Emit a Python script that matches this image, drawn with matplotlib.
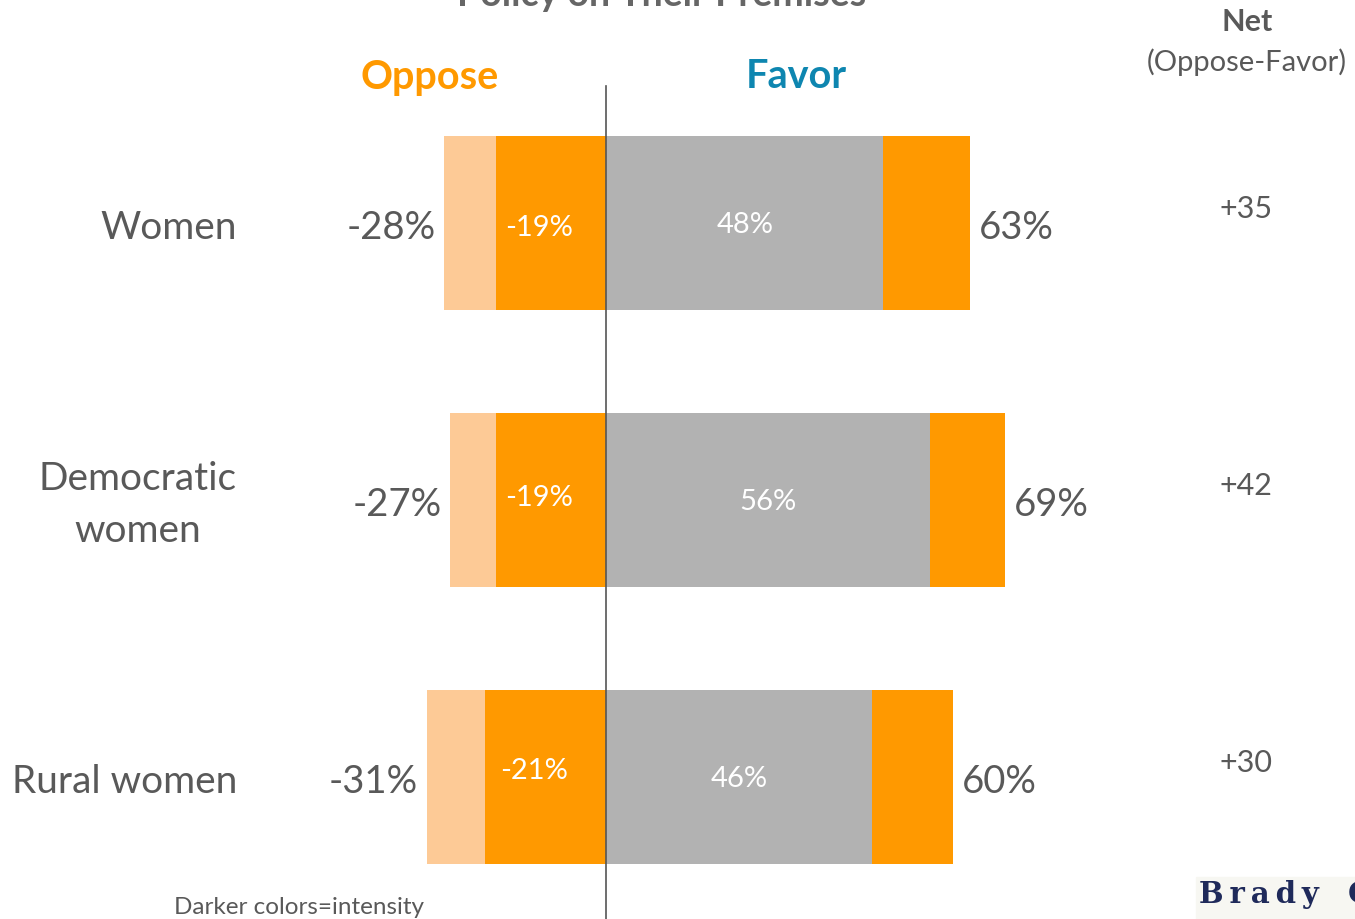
"""Diverging bar chart: oppose vs favor by group"""
import matplotlib.pyplot as plt
import matplotlib.patches as mpatches

groups = ["Women", "Democratic\nwomen", "Rural women"]
oppose_total = [28, 27, 31]
oppose_strong = [19, 19, 21]
favor_total = [63, 69, 60]
favor_strong = [48, 56, 46]
net_labels = ["+35", "+42", "+30"]

LIGHT_ORANGE = "#FDCA96"
ORANGE = "#FF9900"
GRAY = "#B2B2B2"
TEXT_GRAY = "#595959"
BLUE = "#0E86B0"
FONT = "Lato"

plt.rcParams["font.family"] = [FONT, "DejaVu Sans"]

PX = 5.78          # pixels per percentage point
ZERO_PX = 606
ROW_PX = 277
FIRST_ROW_PX = 224
W, H = 1355, 920


def py(pixel_y):
    """pixel row -> data y"""
    return (pixel_y - FIRST_ROW_PX) / ROW_PX


fig = plt.figure(figsize=(W / 100, H / 100), dpi=100)
ax = fig.add_axes([0, 0, 1, 1])
ax.set_xlim(-ZERO_PX / PX, (W - ZERO_PX) / PX)
ax.set_ylim(py(H), py(0))
ax.axis("off")

ys = range(len(groups))
bar_h = 174 / ROW_PX

# oppose side
ax.barh(ys, [-v for v in oppose_total], height=bar_h, color=LIGHT_ORANGE)
ax.barh(ys, [-v for v in oppose_strong], height=bar_h, color=ORANGE)
# favor side
ax.barh(ys, favor_total, height=bar_h, color=ORANGE)
ax.barh(ys, favor_strong, height=bar_h, color=GRAY)

ax.plot([0, 0], [py(87), py(H)], color="#555555", lw=1.2, zorder=5)

inner_dy = [0.015, -0.01, -0.025]
for y, g, ot, os_, ft, fs, net, dy in zip(ys, groups, oppose_total,
                                          oppose_strong, favor_total,
                                          favor_strong, net_labels, inner_dy):
    ax.text(-369 / PX, y + 0.015, g, ha="right", va="center", fontsize=28,
            color=TEXT_GRAY, linespacing=1.55, multialignment="center")
    ax.text(-ot - 1.5, y + 0.015, f"-{ot}%", ha="right", va="center",
            fontsize=27.5, color=TEXT_GRAY)
    ax.text(ft + 1.5, y + 0.015, f"{ft}%", ha="left", va="center",
            fontsize=27.5, color=TEXT_GRAY)
    ax.text(-os_ / 2 - 2, y + dy, f"-{os_}%", ha="center", va="center",
            fontsize=21, color="white")
    ax.text(fs / 2, y + 0.005, f"{fs}%", ha="center", va="center",
            fontsize=21, color="white")
    ax.text(640 / PX, y - 0.055, net, ha="center", va="center", fontsize=22,
            color=TEXT_GRAY)

# headers
ax.text(-30.5, py(77), "Oppose", ha="center", va="center", fontsize=28.5,
        fontweight="bold", color=ORANGE)
ax.text(32.9, py(77), "Favor", ha="center", va="center", fontsize=28.5,
        fontweight="bold", color=BLUE)
ax.text(641 / PX, py(22), "Net", ha="center", va="center", fontsize=22,
        fontweight="bold", color=TEXT_GRAY)
ax.text(641 / PX, py(62), "(Oppose-Favor)", ha="center", va="center",
        fontsize=21, color=TEXT_GRAY)

# title, mostly cut off at the top edge
fig.text(662 / W, 1 - 6 / H, "Policy on Their Premises", ha="center",
         va="baseline", fontsize=27, fontweight="bold", color="#666666")

ax.text(-432 / PX, py(908), "Darker colors=intensity", ha="left",
        va="center", fontsize=17.5, color=TEXT_GRAY)

# logo fragment, cut off at the right edge as in the source
fig.patches.append(mpatches.Rectangle((1196 / W, 0), 160 / W, 42 / H,
                                      transform=fig.transFigure,
                                      color="#F7F7F2", zorder=0))
fig.text(1199 / W, 1 - 895 / H,
         "B\u2009r\u2009a\u2009d\u2009y\u2003C\u2009a\u2009m\u2009p",
         ha="left", va="center", fontsize=21, fontweight="bold",
         color="#1F2A5A", family="DejaVu Serif")

fig.savefig("out.png", dpi=100)
